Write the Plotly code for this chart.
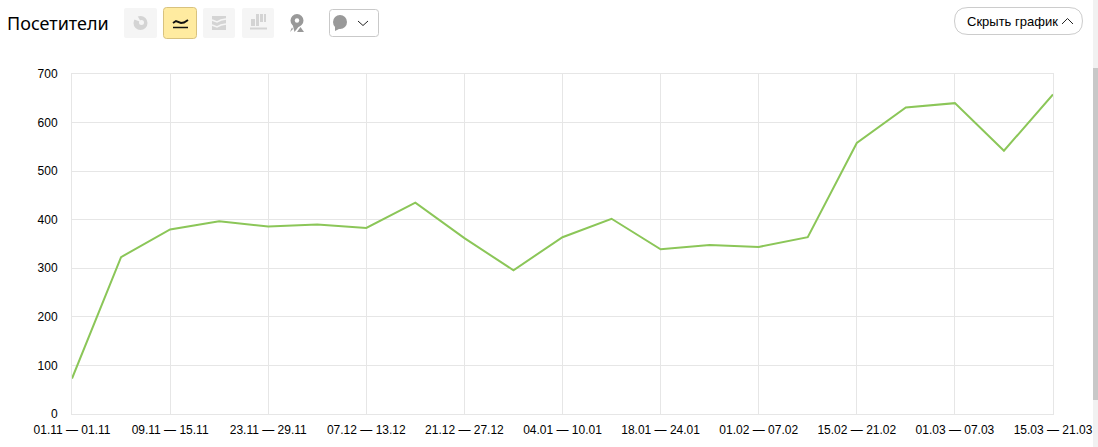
import plotly.graph_objects as go

W, H = 1098, 447
L, R, T, B = 72, 1053, 74, 414

weeks = ["01.11 — 01.11", "02.11 — 08.11", "09.11 — 15.11", "16.11 — 22.11", "23.11 — 29.11",
         "30.11 — 06.12", "07.12 — 13.12", "14.12 — 20.12", "21.12 — 27.12", "28.12 — 03.01",
         "04.01 — 10.01", "11.01 — 17.01", "18.01 — 24.01", "25.01 — 31.01", "01.02 — 07.02",
         "08.02 — 14.02", "15.02 — 21.02", "22.02 — 28.02", "01.03 — 07.03", "08.03 — 14.03",
         "15.03 — 21.03"]
visitors = [73, 323, 380, 397, 386, 390, 383, 435, 362, 296, 364, 402, 339, 348, 344, 364, 558, 631, 640, 542, 658]
y_ticks = [0, 100, 200, 300, 400, 500, 600, 700]


def pt(x, y):
    return "%f,%f" % ((x - L) / (R - L), (B - y) / (B - T))


def path(d, fill=None, line=None, width=1):
    return dict(type="path", xref="paper", yref="paper", path=d, layer="above",
                fillcolor=fill or "rgba(0,0,0,0)",
                line=dict(color=line or "rgba(0,0,0,0)", width=width if line else 0))


def rbox(x0, y0, x1, y1, r, fill, line=None):
    d = ("M " + pt(x0 + r, y0) + " L " + pt(x1 - r, y0) + " Q " + pt(x1, y0) + " " + pt(x1, y0 + r)
         + " L " + pt(x1, y1 - r) + " Q " + pt(x1, y1) + " " + pt(x1 - r, y1)
         + " L " + pt(x0 + r, y1) + " Q " + pt(x0, y1) + " " + pt(x0, y1 - r)
         + " L " + pt(x0, y0 + r) + " Q " + pt(x0, y0) + " " + pt(x0 + r, y0) + " Z")
    return path(d, fill, line)


def poly(points, fill):
    return path("M " + " L ".join(pt(x, y) for x, y in points) + " Z", fill)


def stroke(points, color, width=1.5):
    return path("M " + " L ".join(pt(x, y) for x, y in points), None, color, width)


def blob(x, y, r, color):
    return dict(type="circle", xref="paper", yref="paper",
                x0=(x - r - L) / (R - L), x1=(x + r - L) / (R - L),
                y0=(B - y - r) / (B - T), y1=(B - y + r) / (B - T),
                fillcolor=color, line=dict(width=0), layer="above")


fig = go.Figure()
fig.add_trace(go.Scatter(x=weeks, y=visitors, mode="lines", line=dict(color="#8bc658", width=2), hoverinfo="x+y"))

grey = "#d4d4d4"
shapes = [
    # toolbar buttons
    rbox(124, 8, 157, 38, 2, "#f5f5f5"),
    rbox(163.5, 7.5, 196.5, 38.5, 3, "#ffeba0", "#d8c27e"),
    rbox(203, 8, 235, 38, 2, "#f5f5f5"),
    rbox(242, 8, 274, 38, 2, "#f5f5f5"),
    # pie icon
    blob(140.5, 23, 7, grey),
    blob(141.5, 22.5, 2.5, "#f5f5f5"),
    poly([(141, 22), (137, 15), (133, 19)], "#f5f5f5"),
    # line icon
    stroke([(173, 23), (176, 21), (181, 23), (184, 22.5), (188, 20)], "#111111", 2),
    stroke([(173, 27.5), (188, 27.5)], "#111111", 1.5),
    # stacked icon
    poly([(212, 16), (226, 16), (226, 30), (212, 30)], grey),
    stroke([(212, 20), (217, 22), (221, 20), (226, 19)], "#f5f5f5", 1.5),
    stroke([(212, 25), (217, 27), (221, 25), (226, 24)], "#f5f5f5", 1.5),
    # bars icon
    poly([(251, 19), (255, 19), (255, 26), (251, 26)], grey),
    poly([(256, 14), (259, 14), (259, 26), (256, 26)], grey),
    poly([(260, 14), (263, 14), (263, 22), (260, 22)], grey),
    poly([(264, 14), (266, 14), (266, 22), (264, 22)], grey),
    stroke([(250, 28.5), (267, 28.5)], grey, 2),
    # map pin
    blob(297, 20.5, 6.5, "#999999"),
    blob(297, 20.5, 2.2, "#ffffff"),
    poly([(292.5, 24), (300, 25), (294.5, 32)], "#999999"),
    poly([(290, 32), (292, 27.5), (293, 29)], "#999999"),
    poly([(297, 32), (300.5, 27), (304, 32)], "#999999"),
    # comment dropdown
    rbox(329.5, 9.5, 378.5, 36.5, 3, "#ffffff", "#c9c9c9"),
    blob(340, 22, 7, "#999999"),
    poly([(335, 25), (341, 28), (335, 31)], "#999999"),
    stroke([(358, 21), (363, 25.5), (368, 21)], "#222222", 1),
    # hide button
    rbox(954.5, 7.5, 1082.5, 34.5, 13.5, "#ffffff", "#cccccc"),
    stroke([(1062, 24), (1067.5, 18.5), (1073, 24)], "#222222", 1),
    # page scrollbar
    poly([(1093, 0), (1098, 0), (1098, 447), (1093, 447)], "#f1f1f1"),
    poly([(1093, 68), (1098, 68), (1098, 400), (1093, 400)], "#c8c8c8"),
]

annotations = [
    dict(text="Посетители", xref="paper", yref="paper", x=(5 - L) / (R - L), y=(B - 23) / (B - T),
         xanchor="left", yanchor="middle", showarrow=False,
         font=dict(family="Noto Sans", size=18, color="#000000")),
    dict(text="Скрыть график", xref="paper", yref="paper", x=(965 - L) / (R - L), y=(B - 21) / (B - T),
         xanchor="left", yanchor="middle", showarrow=False, font=dict(size=13, color="#000000")),
]

fig.update_layout(
    width=W, height=H, autosize=False,
    margin=dict(l=L, r=W - R, t=T, b=H - B),
    paper_bgcolor="#ffffff", plot_bgcolor="#ffffff",
    font=dict(family="Liberation Sans, Arial, sans-serif", size=12, color="#000000"),
    showlegend=False,
    shapes=shapes, annotations=annotations,
    xaxis=dict(type="category", categoryorder="array", categoryarray=weeks, range=[0, len(weeks) - 1],
               tickmode="array", tickvals=weeks[::2], ticktext=weeks[::2], tickangle=0,
               showgrid=True, gridcolor="#e6e6e6", gridwidth=1, showline=True, linecolor="#e6e6e6",
               mirror=True, ticks="outside", ticklen=5, tickcolor="#ffffff", tickfont=dict(size=12),
               automargin=False),
    yaxis=dict(range=[0, 700], tickvals=y_ticks, showgrid=True, gridcolor="#e6e6e6", gridwidth=1,
               showline=True, linecolor="#e6e6e6", mirror=True, ticks="outside", ticklen=11,
               tickcolor="#ffffff", zeroline=False, tickfont=dict(size=12), automargin=False),
)

fig.write_html("out.html", config=dict(displayModeBar=False),
               post_script="document.body.style.margin='0';document.documentElement.style.overflow='hidden';")
